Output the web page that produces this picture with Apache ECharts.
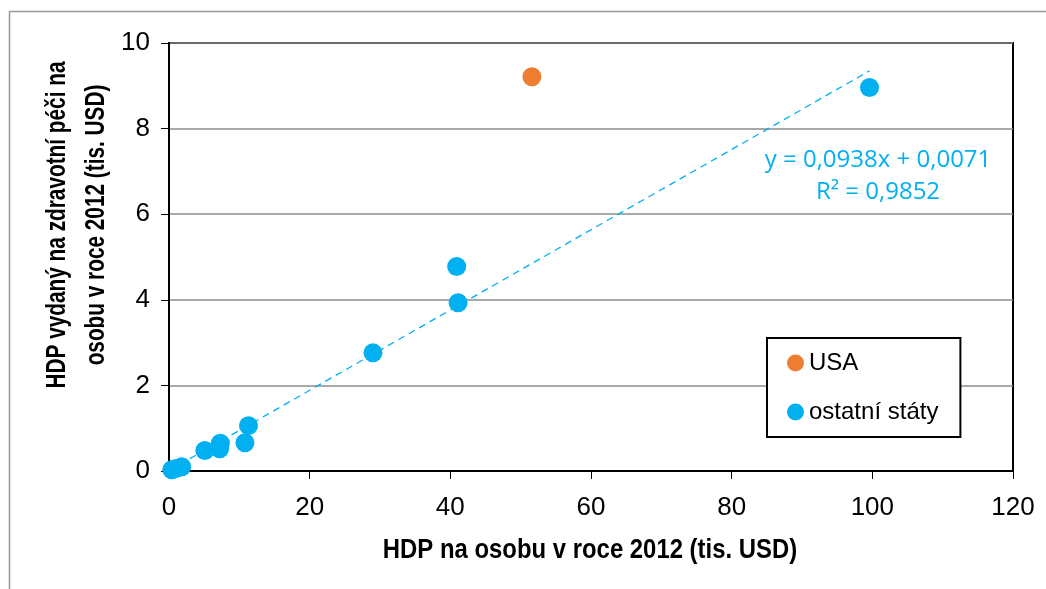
<!DOCTYPE html>
<html>
<head>
<meta charset="utf-8">
<script src="https://cdn.jsdelivr.net/npm/echarts@6/dist/echarts.min.js"></script>
<style>
html,body{margin:0;padding:0;background:#fff;}
#c{width:1046px;height:589px;}
</style>
</head>
<body>
<div id="c"></div>
<script>
// ---- data ----
const seriesNames = ['USA', 'ostatní státy'];
const usaData = [[51.6, 9.21]];
const otherData = [
  [99.6, 8.96],
  [40.9, 4.78],
  [41.1, 3.93],
  [29.0, 2.76],
  [11.3, 1.06],
  [10.8, 0.66],
  [7.3, 0.65],
  [7.2, 0.52],
  [5.1, 0.48],
  [1.8, 0.10],
  [1.0, 0.06],
  [0.4, 0.03]
];
const trendData = [[0, 0.01], [99.6, 9.35]];
const equationText = 'y = 0,0938x + 0,0071';
const r2Text = 'R² = 0,9852';
const xTitle = 'HDP na osobu v roce 2012 (tis. USD)';
const yTitle = 'HDP vydaný na zdravotní péči na\nosobu v roce 2012 (tis. USD)';

const sans = '"Liberation Sans", Arial, sans-serif';
const chart = echarts.init(document.getElementById('c'));
chart.setOption({
  animation: false,
  backgroundColor: '#fff',
  grid: {
    left: 169, top: 43, right: 33, bottom: 118,
    show: true, borderColor: '#000', borderWidth: 2, backgroundColor: 'transparent'
  },
  xAxis: {
    type: 'value', min: 0, max: 120, interval: 20,
    axisLine: { show: true, onZero: false, lineStyle: { color: '#000', width: 2 } },
    axisTick: { show: true, inside: false, length: 8, lineStyle: { color: '#000', width: 1 } },
    axisLabel: { fontFamily: sans, fontSize: 26, color: '#000', margin: 24 },
    splitLine: { show: false }
  },
  yAxis: {
    type: 'value', min: 0, max: 10, interval: 2,
    axisLine: { show: true, onZero: false, lineStyle: { color: '#000', width: 2 } },
    axisTick: { show: true, inside: false, length: 8, lineStyle: { color: '#000', width: 1 } },
    axisLabel: { fontFamily: sans, fontSize: 26, color: '#000', margin: 19 },
    splitLine: { show: true, lineStyle: { color: '#8c8c8c', width: 1.5 } }
  },
  legend: {
    data: seriesNames.map(n => ({ name: n, icon: 'circle' })),
    orient: 'vertical', left: 767, top: 338,
    itemWidth: 17, itemHeight: 17, itemGap: 25,
    padding: [13, 22, 13, 20],
    borderColor: '#000', borderWidth: 2, backgroundColor: '#fff',
    textStyle: { fontFamily: sans, fontSize: 24, lineHeight: 24, color: '#000' }
  },
  graphic: [
    { type: 'rect', silent: true, shape: { x: 9.5, y: 11.5, width: 1100, height: 700 },
      style: { fill: 'none', stroke: '#999', lineWidth: 1.5 }, z: -10 },
    { type: 'text', silent: true, x: 590, y: 551, scaleX: 0.885,
      style: { text: xTitle, fill: '#000', font: 'bold 27px ' + sans, align: 'center', verticalAlign: 'middle' } },
    { type: 'text', silent: true, x: 77, y: 225, rotation: Math.PI / 2, scaleX: 0.77,
      style: { text: yTitle, fill: '#000', font: 'bold 27px ' + sans, lineHeight: 39, align: 'center', verticalAlign: 'middle' } },
    { type: 'text', silent: true, x: 878, y: 160,
      style: { text: equationText, fill: '#00B0F0', font: '24px "Open Sans", "Noto Sans", sans-serif', align: 'center', verticalAlign: 'middle' } },
    { type: 'text', silent: true, x: 878, y: 192,
      style: { text: r2Text, fill: '#00B0F0', font: '24px "Open Sans", "Noto Sans", sans-serif', align: 'center', verticalAlign: 'middle' } }
  ],
  series: [
    {
      name: 'trend', type: 'line', data: trendData, symbol: 'none', silent: true,
      lineStyle: { color: '#00B0F0', width: 1.3, type: [7, 5] }, z: 1
    },
    {
      name: seriesNames[0], type: 'scatter', data: usaData, symbolSize: 19,
      itemStyle: { color: '#ED7D31', opacity: 1 }, z: 3
    },
    {
      name: seriesNames[1], type: 'scatter', data: otherData, symbolSize: 19,
      itemStyle: { color: '#00B0F0', opacity: 1 }, z: 3
    }
  ]
});
</script>
</body>
</html>
